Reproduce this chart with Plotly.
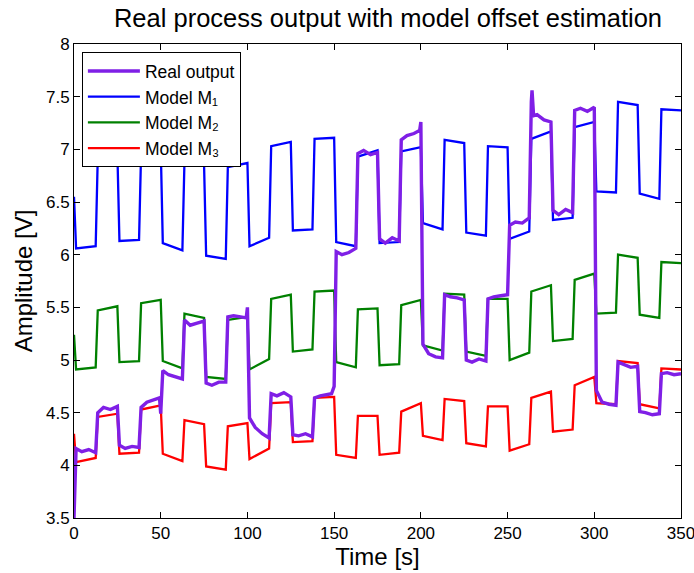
import plotly.graph_objects as go

# switching instants of the square-wave input [s]
switch_t = [0, 12.5, 25, 37.5, 50, 62.5, 75, 87.5, 100, 112.5, 125, 137.5, 150, 162.5,
            175, 187.5, 200, 212.5, 225, 237.5, 250, 262.5, 275, 287.5, 300, 312.5, 325, 337.5]
t_end = 350

# Model M1 (level just after each switch, level just before the next switch)
m1_init = 6.55
m1_start = [6.06, 6.92, 6.13, 6.98, 6.11, 6.89, 5.99, 6.83, 6.08, 7.03, 6.23, 7.10, 6.12, 6.93,
            6.11, 6.98, 6.30, 7.09, 6.21, 7.03, 6.15, 7.10, 6.33, 7.21, 6.60, 7.45, 6.58, 7.38]
m1_end = [6.08, 6.97, 6.14, 7.03, 6.04, 6.85, 5.96, 6.87, 6.16, 7.07, 6.24, 7.11, 6.08, 6.99,
          6.12, 7.02, 6.24, 7.06, 6.18, 7.02, 6.22, 7.17, 6.35, 7.26, 6.59, 7.42, 6.53, 7.37]

# Model M2
m2_init = 5.24
m2_start = [4.91, 5.47, 4.98, 5.54, 4.99, 5.44, 4.84, 5.38, 4.91, 5.58, 5.08, 5.65, 4.98, 5.48,
            4.95, 5.52, 5.14, 5.63, 5.08, 5.58, 5.00, 5.65, 5.18, 5.76, 5.44, 6.00, 5.43, 5.93]
m2_end = [4.93, 5.51, 4.99, 5.57, 4.92, 5.40, 4.82, 5.41, 5.01, 5.62, 5.10, 5.66, 4.93, 5.49,
          4.96, 5.57, 5.09, 5.62, 5.04, 5.58, 5.07, 5.71, 5.20, 5.82, 5.45, 5.97, 5.40, 5.92]

# Model M3
m3_init = 4.30
m3_start = [4.03, 4.46, 4.11, 4.53, 4.11, 4.43, 3.99, 4.37, 4.06, 4.59, 4.22, 4.64, 4.10, 4.47,
            4.10, 4.51, 4.28, 4.63, 4.21, 4.56, 4.14, 4.64, 4.32, 4.76, 4.59, 4.99, 4.58, 4.92]
m3_end = [4.07, 4.49, 4.12, 4.57, 4.04, 4.39, 3.96, 4.40, 4.16, 4.60, 4.23, 4.65, 4.07, 4.47,
          4.12, 4.59, 4.24, 4.61, 4.18, 4.56, 4.20, 4.70, 4.34, 4.84, 4.58, 4.97, 4.54, 4.91]

# Real output (start, two intermediate readings, end of each segment)
real_init = 3.5
real_start = [4.16, 4.50, 4.19, 4.55, 4.90, 5.38, 4.78, 5.41, 4.45, 4.68, 4.29, 4.64, 6.03, 6.96,
              6.15, 7.09, 5.15, 5.62, 5.00, 5.58, 6.28, 7.45, 6.42, 7.37, 4.71, 4.98, 4.51, 4.87]
real_mid1 = [4.13, 4.55, 4.16, 4.60, 4.86, 5.33, 4.76, 5.42, 4.36, 4.66, 4.28, 4.66, 6.00, 6.99,
             6.11, 7.13, 5.06, 5.60, 4.98, 5.60, 6.31, 7.33, 6.38, 7.39, 4.60, 4.96, 4.50, 4.88]
real_mid2 = [4.15, 4.53, 4.18, 4.62, 4.84, 5.35, 4.79, 5.41, 4.30, 4.69, 4.30, 4.67, 6.02, 6.95,
             6.16, 7.15, 5.03, 5.59, 5.01, 5.61, 6.30, 7.28, 6.43, 7.36, 4.58, 4.93, 4.48, 4.86]
real_end = [4.12, 4.56, 4.17, 4.49, 4.82, 5.37, 4.79, 5.50, 4.26, 4.65, 4.27, 4.75, 6.06, 6.97,
            6.13, 7.26, 5.02, 5.57, 4.99, 5.62, 6.35, 7.26, 6.40, 7.40, 4.57, 4.94, 4.49, 4.87]
real_extra_t = [49.3, 99.3, 148.5, 199.3, 264.1, 265.0]
real_extra_v = [4.64, 5.40, 4.68, 7.18, 7.56, 7.32]

x_ticks = [0, 50, 100, 150, 200, 250, 300, 350]
y_ticks = [3.5, 4, 4.5, 5, 5.5, 6, 6.5, 7, 7.5, 8]
y_ticktext = ["3.5", "4", "4.5", "5", "5.5", "6", "6.5", "7", "7.5", "8"]

RISE = 1.2


def build(init, starts, ends, mids=None, extra=None):
    pts = [(0.0, init)]
    for k, s in enumerate(switch_t):
        if k > 0:
            pts.append((s, ends[k - 1]))
        pts.append((s + RISE, starts[k]))
        if mids is not None:
            pts.append((s + 4.5, mids[0][k]))
            pts.append((s + 8.5, mids[1][k]))
    pts.append((float(t_end), ends[-1]))
    if extra is not None:
        pts += list(zip(extra[0], extra[1]))
    pts.sort(key=lambda p: p[0])
    return [p[0] for p in pts], [p[1] for p in pts]


x1, y1 = build(m1_init, m1_start, m1_end)
x2, y2 = build(m2_init, m2_start, m2_end)
x3, y3 = build(m3_init, m3_start, m3_end)
xr, yr = build(real_init, real_start, real_end, mids=(real_mid1, real_mid2),
               extra=(real_extra_t, real_extra_v))

FONT = "Liberation Sans, Arial, Helvetica, sans-serif"

fig = go.Figure()
fig.add_trace(go.Scatter(x=x1, y=y1, mode="lines", name="Model M\u2081",
                         line=dict(color="#0000FF", width=2.3), legendrank=2))
fig.add_trace(go.Scatter(x=x2, y=y2, mode="lines", name="Model M\u2082",
                         line=dict(color="#008000", width=2.3), legendrank=3))
fig.add_trace(go.Scatter(x=x3, y=y3, mode="lines", name="Model M\u2083",
                         line=dict(color="#FF0000", width=2.3), legendrank=4))
fig.add_trace(go.Scatter(x=xr, y=yr, mode="lines", name="Real output",
                         line=dict(color="#7F1FE6", width=3.4), legendrank=1))

axis_common = dict(showline=True, linecolor="black", linewidth=1, mirror="ticks",
                   ticks="inside", ticklen=6, tickcolor="black", showgrid=False,
                   zeroline=False, ticklabeloverflow="allow", automargin=False,
                   tickfont=dict(family=FONT, size=17, color="black"))

fig.update_layout(
    width=694, height=573,
    margin=dict(l=74, r=13, t=44, b=55, autoexpand=False),
    paper_bgcolor="white", plot_bgcolor="white",
    font=dict(family=FONT, color="black"),
    title=dict(text="Real process output with model offset estimation",
               x=388 / 694, xref="container", xanchor="center",
               y=1 - 18 / 573, yref="container", yanchor="middle",
               font=dict(family=FONT, size=25.5, color="black")),
    xaxis=dict(range=[0, 350], tickvals=x_ticks,
               title=dict(text="Time [s]", font=dict(family=FONT, size=24), standoff=3),
               **axis_common),
    yaxis=dict(range=[3.5, 8], tickvals=y_ticks, ticktext=y_ticktext,
               title=dict(text="Amplitude [V]", font=dict(family=FONT, size=24), standoff=6),
               **axis_common),
    legend=dict(x=0.013, y=0.983, xanchor="left", yanchor="top",
                bgcolor="white", bordercolor="black", borderwidth=1,
                font=dict(family=FONT, size=17.5, color="black"),
                itemwidth=52,
                traceorder="normal", tracegroupgap=0),
    showlegend=True,
)

fig.write_html("out.html")
